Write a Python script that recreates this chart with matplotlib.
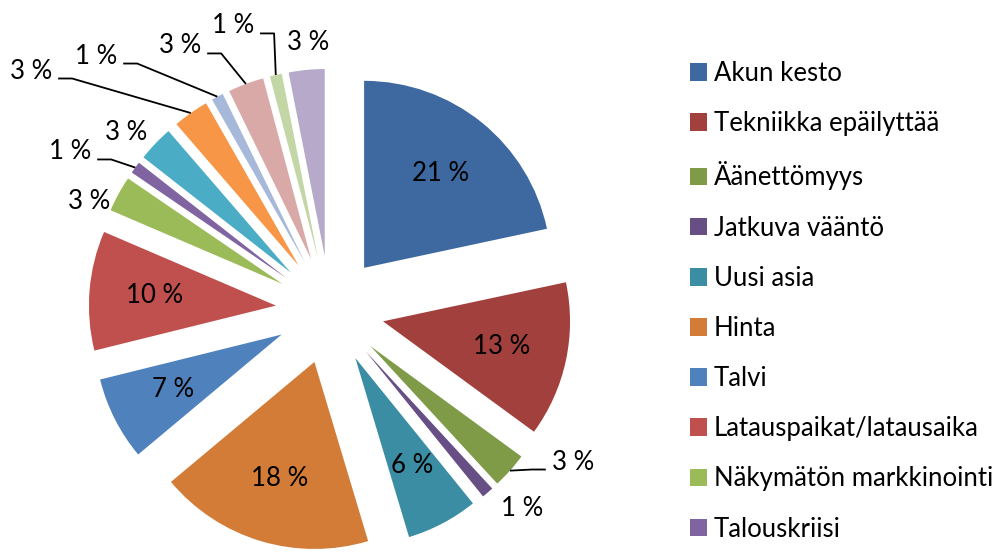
import numpy as np
import matplotlib.pyplot as plt
from matplotlib.patches import Patch

plt.rcParams['font.family'] = ['Lato', 'DejaVu Sans']

labels = ['Akun kesto', 'Tekniikka epäilyttää', 'Äänettömyys', 'Jatkuva vääntö',
          'Uusi asia', 'Hinta', 'Talvi', 'Latauspaikat/latausaika',
          'Näkymätön markkinointi', 'Talouskriisi']
values = [21, 13, 3, 1, 6, 18, 7, 10, 3, 1, 3, 3, 1, 3, 1, 3]
colors = ['#3E68A0', '#A2403D', '#7F9B48', '#674F85', '#3A8DA3', '#D27C37',
          '#4F81BD', '#C0504D', '#9BBB59', '#8064A2', '#4BACC6', '#F79646',
          '#A7B9DB', '#D9A9A8', '#C3D6A5', '#B6A9C9']

# outside label positions (data units), leader side: 0 none, 1 line leaves text to the right, -1 to the left
outside = {2: (1.299, -0.813, -1), 3: (1.027, -1.059, 0), 8: (-1.289, 0.578, 0),
           9: (-1.390, 0.845, 1), 10: (-1.091, 0.947, 0), 11: (-1.599, 1.278, 1),
           12: (-1.251, 1.358, 1), 13: (-0.802, 1.412, 1), 14: (-0.519, 1.519, 1),
           15: (-0.118, 1.428, 0)}

fig = plt.figure(figsize=(10.03, 5.52), dpi=100)
ax = fig.add_axes([0, 0, 660 / 1003, 1])

wedges, _ = ax.pie(values, colors=colors, startangle=90, counterclock=False,
                   explode=[0.29] * len(values), radius=1.0,
                   wedgeprops=dict(linewidth=0))

fs = 18.5
for i, w in enumerate(wedges):
    tm = np.deg2rad((w.theta1 + w.theta2) / 2)
    cx, cy = w.center
    txt = f'{values[i]} %'
    if i in outside:
        lx, ly, side = outside[i]
        ax.text(lx, ly, txt, ha='center', va='center', fontsize=fs)
        if side != 0:
            ox = cx + w.r * np.cos(tm)
            oy = cy + w.r * np.sin(tm)
            x0 = lx + side * 0.145
            x1 = lx + side * 0.22
            yl = ly - 0.04
            ax.plot([x0, x1, ox], [yl, yl, oy], color='black', lw=1.3,
                    solid_capstyle='butt')
    else:
        ax.text(cx + 0.65 * w.r * np.cos(tm), cy + 0.65 * w.r * np.sin(tm), txt,
                ha='center', va='center', fontsize=fs)

ax.set_xlim(-330 / 187, 330 / 187)
ax.set_ylim(-242 / 187, 310 / 187)
ax.axis('off')

handles = [Patch(facecolor=colors[i], edgecolor='none') for i in range(len(labels))]
fig.legend(handles, labels, loc='upper left', bbox_to_anchor=(690 / 1003, 1 - 61 / 552),
           frameon=False, fontsize=fs, handlelength=0.68, handleheight=0.68,
           handletextpad=0.25, labelspacing=0.98, borderpad=0, borderaxespad=0)

fig.savefig('out.png', dpi=100)
